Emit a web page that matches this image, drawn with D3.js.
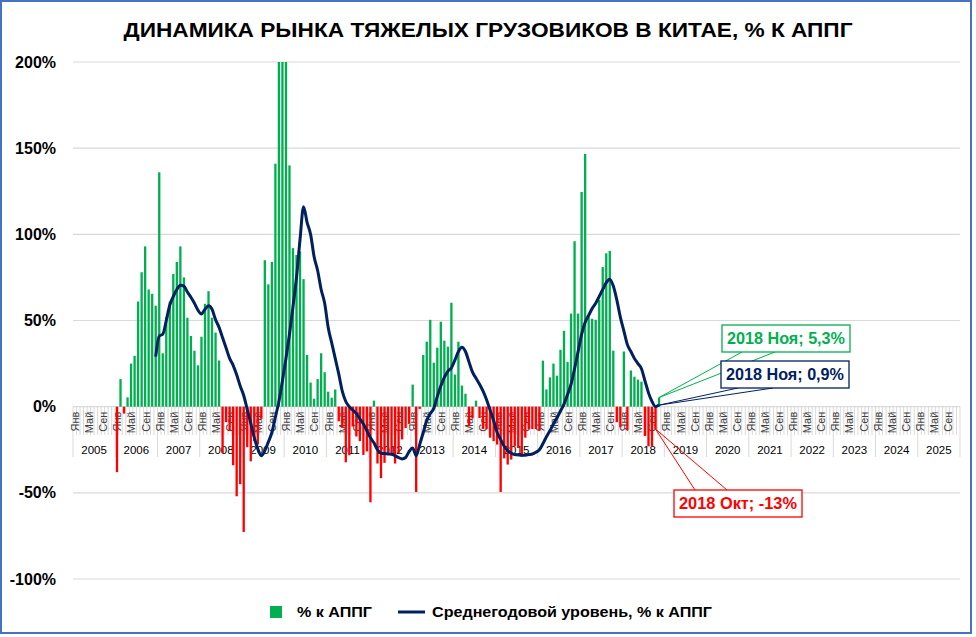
<!DOCTYPE html>
<html><head><meta charset="utf-8">
<script src="https://cdn.jsdelivr.net/npm/d3@7"></script>
<style>body{margin:0;background:#fff} svg{display:block;font-family:"Liberation Sans",Arial,sans-serif}</style>
</head><body><svg id="c" width="976" height="637"></svg>
<script>
const firstYear = 2005, lastYear = 2025;
const monthNames = ["Янв","Фев","Мар","Апр","Май","Июн","Июл","Авг","Сен","Окт","Ноя","Дек"];
const shownMonths = ["Янв","Май","Сен"];
const yTicks = [-100, -50, 0, 50, 100, 150, 200];
const titleText = "ДИНАМИКА РЫНКА ТЯЖЕЛЫХ ГРУЗОВИКОВ В КИТАЕ, % К АППГ";
const barLabel = "% к АППГ";
const avgLabel = "Среднегодовой уровень, % к АППГ";

// monthly growth, % YoY, from Jan 2006
const barStart = 12;
const barValues = [
  -38, 16, -4, 5.4, 25, 29.5, 61, 78, 93, 68, 65.5, 58.6,        // 2006
  136, 31, 52, 61, 77, 84, 93, 75, 51.6, 41, 32.5, 24,           // 2007
  40.6, 59.7, 67, 51.6, 43, 26.8, -27, -9, -14, -34, -52, -45,   // 2008
  -72.7, -23.5, -31.7, -20, -22, -7, 85, 71, 84, 141, 215, 250,  // 2009
  230, 140, 92, 88, 90, 74, 30, 14, 4.6, 16, 31, 20,             // 2010
  8.7, 5.2, 10, -8.5, -12.4, -32.3, -28.2, -11.5, -17.3, -20, -28, -26, // 2011
  -55.5, 3.5, -33, -41.5, -32.6, -28, -27.4, -33, -27, -19, -12.4, -10, // 2012
  12.8, -49.5, -1.3, 30, 37.7, 50.4, 25.5, 34.2, 49.3, 38.3, 34.8, 60.3, // 2013
  18.6, 37.7, 12.2, 7.5, -11.4, -6.6, 3.5, -6.6, -13, -13, -18, -20,    // 2014
  -22, -49.5, -30, -33.6, -30.7, -23, -24, -29, -18, -13, -13, -13,     // 2015
  -14, 26.7, 10, 17, 25, 18, 33, 44, 26, 54, 96, 54,                    // 2016
  124.6, 146.7, 52, 51, 50.4, 62, 81, 89, 90.4, 32.5, -9, -12,          // 2017
  32, -13.7, 21, 17.4, 15.7, 14.5, -17, -23, -23, -13, 5.3              // 2018
];
// average annual level, % YoY, from Dec 2006
const avgStart = 23;
const avgValues = [
  29,
  41, 42, 50, 59, 64, 68, 70.5, 70, 66.5, 63.5, 60, 56,
  53.8, 56.5, 58.5, 56.5, 50.5, 46, 40, 34, 28, 24, 18.5, 12,
  6.5, -1.5, -9.5, -18, -24.5, -28.5, -25.5, -20.5, -15, -6, 3, 15,
  28, 42, 58, 75, 97, 116, 107, 100, 87, 79, 68, 60,
  46, 37, 28, 19, 9, 3, 0, -2, -4, -7, -10, -14,
  -18, -21, -25, -27, -27.2, -27.4, -27.6, -28.5, -29.5, -30.3, -29.5, -26,
  -24, -28.5, -22, -15, -8, -4, -1, 6, 12, 17, 20.5, 22.5,
  27, 32, 34.5, 32, 26, 20, 16.5, 13, 9, 4, -2, -8,
  -15, -19, -23, -25.5, -27, -27.8, -28, -28.2, -28.2, -27.8, -27.5, -26.5,
  -25, -21.5, -17.5, -14, -10, -6.5, -2.5, 1.5, 7, 13, 22, 32,
  42, 49, 53, 57, 60, 64, 68, 72, 74, 70, 62, 52,
  44, 36, 32, 28, 25, 22, 15, 8, 3, 0, 0.9
];
// annotations
const noteBar = {label: "2018 Ноя; 5,3%", index: 166, value: 5.3};
const noteAvg = {label: "2018 Ноя; 0,9%", index: 166, value: 0.9};
const noteNeg = {label: "2018 Окт; -13%", index: 165, value: -13};

const GREEN = "#00b050", RED = "#ff0000", NAVY = "#002060";
const svg = d3.select("#c");

const cats = [];
d3.range(firstYear, lastYear + 1).forEach(y => monthNames.forEach((m, k) => cats.push({year: y, month: m, k})));

const left = 73, right = 960;
const pad = 0.34;
const x = d3.scaleBand().domain(d3.range(cats.length)).range([left, right]).paddingInner(pad).paddingOuter(pad / 2);
const step = x.step();
const y = d3.scaleLinear().domain([-100, 200]).range([579, 62]).clamp(true);
const y0 = y(0);

// border
svg.append("rect").attr("x", 1).attr("y", 1).attr("width", 970).attr("height", 632)
  .attr("fill", "#fff").attr("stroke", "#4472c4").attr("stroke-width", 2);

// title
svg.append("text").attr("x", 488).attr("y", 37).attr("text-anchor", "middle")
  .attr("font-size", 21).attr("font-weight", "bold").attr("fill", "#000")
  .attr("textLength", 729).attr("lengthAdjust", "spacingAndGlyphs").text(titleText);

// gridlines
svg.append("g").selectAll("line").data(yTicks).join("line")
  .attr("x1", left).attr("x2", right).attr("y1", d => y(d)).attr("y2", d => y(d))
  .attr("stroke", "#d9d9d9").attr("stroke-width", 1.2);

// y axis
const ya = svg.append("g").attr("transform", `translate(${left},0)`)
  .call(d3.axisLeft(y).tickValues(yTicks).tickFormat(d => d + "%").tickSize(0).tickPadding(17));
ya.select(".domain").remove();
ya.selectAll("text").attr("font-size", 16).attr("font-weight", "bold").attr("fill", "#000")
  .attr("font-family", "Liberation Sans, Arial, sans-serif");

// category axis: month tick lines and year separators
const cax = svg.append("g");
cax.selectAll("line.m").data(d3.range(cats.length + 1)).join("line")
  .attr("x1", k => left + k * step).attr("x2", k => left + k * step)
  .attr("y1", y0).attr("y2", k => k % 12 === 0 ? 457 : 435)
  .attr("stroke", "#d9d9d9").attr("stroke-width", 1);
cax.selectAll("text.m").data(cats.map((c, i) => ({...c, i})).filter(c => shownMonths.includes(c.month)))
  .join("text")
  .attr("transform", c => `translate(${x(c.i) + x.bandwidth() / 2 + 0.5},${y0 + 5}) rotate(-90)`)
  .attr("text-anchor", "end").attr("dy", "0.35em")
  .attr("font-size", 11).attr("fill", "#404040").text(c => c.month);
cax.selectAll("text.y").data(d3.range(firstYear, lastYear + 1)).join("text")
  .attr("x", (yr, j) => left + (j * 12 + 6) * step).attr("y", 454)
  .attr("text-anchor", "middle").attr("font-size", 11.5).attr("fill", "#000").text(yr => yr);

// bars
const bars = barValues.map((v, j) => ({i: barStart + j, v}));
svg.append("g").selectAll("rect").data(bars).join("rect")
  .attr("x", d => x(d.i)).attr("width", x.bandwidth())
  .attr("y", d => Math.min(y(d.v), y0)).attr("height", d => Math.abs(y(d.v) - y0))
  .attr("fill", d => d.v >= 0 ? GREEN : RED);

// average line
const avg = avgValues.map((v, j) => ({i: avgStart + j, v}));
svg.append("path").datum(avg)
  .attr("d", d3.line().x(d => x(d.i) + x.bandwidth() / 2).y(d => y(d.v)).curve(d3.curveMonotoneX))
  .attr("fill", "none").attr("stroke", NAVY).attr("stroke-width", 3).attr("stroke-linejoin", "round");

// callouts
function callout(note, color, box, wedge, tip) {
  const g = svg.append("g");
  g.append("line").attr("x1", wedge[0][0]).attr("y1", wedge[0][1]).attr("x2", tip[0]).attr("y2", tip[1])
    .attr("stroke", color).attr("stroke-width", 1);
  g.append("line").attr("x1", wedge[1][0]).attr("y1", wedge[1][1]).attr("x2", tip[0]).attr("y2", tip[1])
    .attr("stroke", color).attr("stroke-width", 1);
  g.append("rect").attr("x", box.x).attr("y", box.y).attr("width", box.w).attr("height", box.h)
    .attr("fill", "#fff").attr("stroke", color).attr("stroke-width", 1.3);
  g.append("text").attr("x", box.x + box.w / 2).attr("y", box.y + box.h / 2).attr("dy", "0.36em")
    .attr("text-anchor", "middle").attr("font-size", 16.5).attr("font-weight", "bold").attr("fill", color)
    .attr("textLength", box.w - 10).attr("lengthAdjust", "spacingAndGlyphs").text(note.label);
}
const cx = n => x(n.index) + x.bandwidth() / 2;
callout(noteBar, GREEN, {x: 722, y: 325, w: 128, h: 27}, [[742, 352], [775, 352]], [cx(noteBar), y(noteBar.value)]);
callout(noteAvg, NAVY, {x: 721, y: 361, w: 128, h: 27}, [[738, 388], [773, 388]], [cx(noteAvg), y(noteAvg.value)]);
callout(noteNeg, RED, {x: 674, y: 490, w: 128, h: 27}, [[695, 490], [727, 490]], [cx(noteNeg), y(noteNeg.value)]);

// legend
const lg = svg.append("g");
lg.append("rect").attr("x", 270).attr("y", 606).attr("width", 12).attr("height", 12).attr("fill", GREEN);
lg.append("text").attr("x", 297).attr("y", 612).attr("dy", "0.35em").attr("font-size", 15).attr("font-weight", "bold")
  .attr("textLength", 75).attr("lengthAdjust", "spacingAndGlyphs").text(barLabel);
lg.append("line").attr("x1", 398).attr("x2", 425).attr("y1", 612).attr("y2", 612)
  .attr("stroke", NAVY).attr("stroke-width", 3);
lg.append("text").attr("x", 432).attr("y", 612).attr("dy", "0.35em").attr("font-size", 15).attr("font-weight", "bold")
  .attr("textLength", 280).attr("lengthAdjust", "spacingAndGlyphs").text(avgLabel);
</script></body></html>
